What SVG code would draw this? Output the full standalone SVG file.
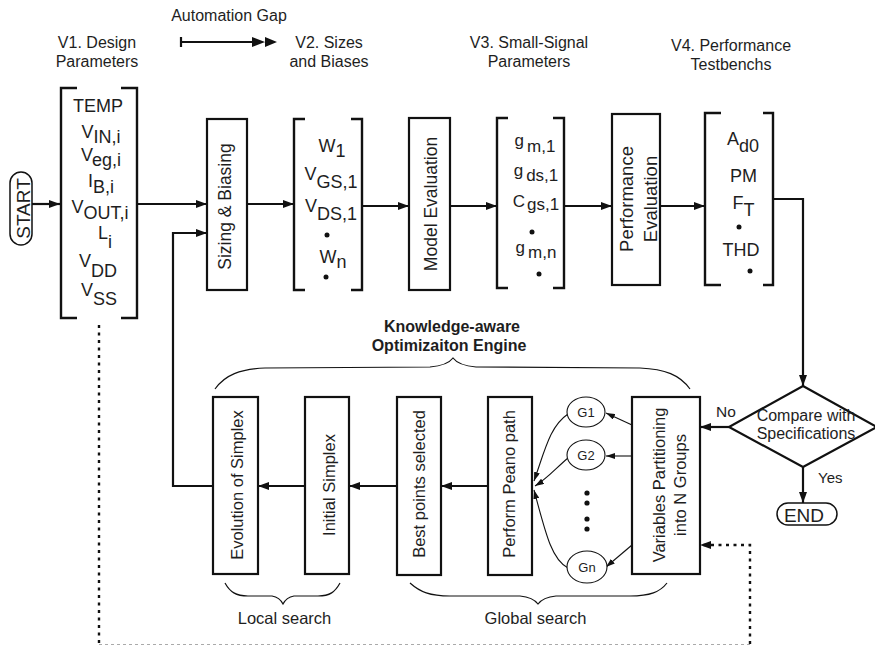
<svg xmlns="http://www.w3.org/2000/svg" width="875" height="646" viewBox="0 0 875 646">
  <defs>
    <marker id="arr" viewBox="0 0 11 8" refX="11" refY="4" markerWidth="11" markerHeight="8" markerUnits="userSpaceOnUse" orient="auto">
      <path d="M0,0 L11,4 L0,8 z" fill="#111"/>
    </marker>
    <marker id="arrs" viewBox="0 0 9 6" refX="9" refY="3" markerWidth="9" markerHeight="6" markerUnits="userSpaceOnUse" orient="auto">
      <path d="M0,0 L9,3 L0,6 z" fill="#111"/>
    </marker>
    <style>
      text { font-family: "Liberation Sans", Arial, sans-serif; fill: #1e1e1e; }
      .hd { font-size: 16px; text-anchor: middle; }
      .vec { font-size: 18px; text-anchor: middle; }
      .v3 { font-size: 17px; text-anchor: middle; }
      .box { fill: #fff; stroke: #111; stroke-width: 2.2; }
      .brk { fill: none; stroke: #111; stroke-width: 2.4; }
      .lbl { font-size: 17.5px; text-anchor: middle; }
      .lbl2 { font-size: 16.5px; text-anchor: middle; }
      .wire { fill: none; stroke: #111; stroke-width: 2.2; }
      .thin { fill: none; stroke: #111; stroke-width: 1.1; }
      .dot { fill: #111; }
      .dotted { fill: none; stroke: #111; stroke-width: 2.4; stroke-dasharray: 3 4.5; }
      .grey { fill: none; stroke: #aaa; stroke-width: 1; stroke-dasharray: 3 3; }
      .brace { fill: none; stroke: #111; stroke-width: 1.2; }
    </style>
  </defs>

  <!-- column headings -->
  <g id="headings">
    <text class="hd" x="229" y="21">Automation Gap</text>
    <path d="M181,37 V47 M181,42 H256" class="wire"/>
    <path d="M252,37 L265,42 L252,47 z M265,37 L277,42 L265,47 z" fill="#111"/>
    <text class="hd" x="97" y="48">V1. Design</text>
    <text class="hd" x="97" y="67">Parameters</text>
    <text class="hd" x="329" y="48">V2. Sizes</text>
    <text class="hd" x="329" y="67">and Biases</text>
    <text class="hd" x="529" y="48">V3. Small-Signal</text>
    <text class="hd" x="529" y="67">Parameters</text>
    <text class="hd" x="731" y="51">V4. Performance</text>
    <text class="hd" x="731" y="70">Testbenchs</text>
  </g>

  <!-- connectors -->
  <g id="connectors">
    <path class="wire" d="M32,204 H60" marker-end="url(#arr)"/>
    <path class="wire" d="M137,204 H207" marker-end="url(#arr)"/>
    <path class="wire" d="M213,486 H173 V233 H207" marker-end="url(#arr)"/>
    <path class="wire" d="M247,204 H294" marker-end="url(#arr)"/>
    <path class="wire" d="M362,206 H409" marker-end="url(#arr)"/>
    <path class="wire" d="M450,206 H497" marker-end="url(#arr)"/>
    <path class="wire" d="M564,206 H612" marker-end="url(#arr)"/>
    <path class="wire" d="M660,206 H705" marker-end="url(#arr)"/>
    <path class="wire" d="M773,199 H803 V386" marker-end="url(#arr)"/>
    <path class="wire" d="M729,427 H700" marker-end="url(#arr)"/>
    <path class="wire" d="M803,467 V503" marker-end="url(#arr)"/>
    <path class="wire" d="M488,486 H441" marker-end="url(#arr)"/>
    <path class="wire" d="M397,486 H349" marker-end="url(#arr)"/>
    <path class="wire" d="M305,486 H258" marker-end="url(#arr)"/>
    <path class="thin" d="M632,425 L606,413" marker-end="url(#arrs)"/>
    <path class="thin" d="M632,456 H606" marker-end="url(#arrs)"/>
    <path class="thin" d="M632,545 L606,567" marker-end="url(#arrs)"/>
    <path class="thin" d="M568,414 C550,426 545,450 534,481" marker-end="url(#arrs)"/>
    <path class="thin" d="M568,458 C556,468 548,478 535,486" marker-end="url(#arrs)"/>
    <path class="thin" d="M568,568 C552,560 546,535 534,490" marker-end="url(#arrs)"/>
    <path class="dotted" d="M99,325 V644"/>
    <path class="grey" d="M99,644.5 H750"/>
    <path class="dotted" d="M750,644 V545 H703"/>
    <path d="M700,545 L711,541 L711,549 z" fill="#111"/>
  </g>

  <g id="start">
    <rect x="10" y="172" width="22" height="73" rx="11" fill="#fff" stroke="#111" stroke-width="1.5"/>
    <text transform="translate(29.5,208.5) rotate(-90)" font-size="19" text-anchor="middle">START</text>
  </g>

  <!-- V1 design parameters -->
  <g id="v1">
    <path class="brk" d="M77,88 H61 V318 H77 M121,88 H137 V318 H121"/>
    <text class="vec" x="98" y="112">TEMP</text>
    <text class="vec" x="101" y="138">V<tspan dy="5">IN,i</tspan></text>
    <text class="vec" x="101" y="161">V<tspan dy="5">eg,i</tspan></text>
    <text class="vec" x="101" y="187">I<tspan dy="6">B,i</tspan></text>
    <text class="vec" x="100" y="213">V<tspan dy="6">OUT,i</tspan></text>
    <text class="vec" x="105" y="239">L<tspan dy="9">i</tspan></text>
    <text class="vec" x="98" y="267">V<tspan dy="10">DD</tspan></text>
    <text class="vec" x="99" y="296">V<tspan dy="9">SS</tspan></text>
  </g>

  <g id="sizing">
    <rect class="box" x="207" y="119" width="40" height="171"/>
    <text class="lbl" transform="translate(231,206.5) rotate(-90)">Sizing &amp; Biasing</text>
  </g>

  <!-- V2 sizes and biases -->
  <g id="v2">
    <path class="brk" d="M305,119 H294 V290 H305 M351,119 H362 V290 H351"/>
    <text class="vec" x="332" y="152">W<tspan dy="5">1</tspan></text>
    <text class="vec" x="331" y="180">V<tspan dy="8">GS,1</tspan></text>
    <text class="vec" x="331" y="212">V<tspan dy="8">DS,1</tspan></text>
    <circle class="dot" cx="327" cy="235" r="2.5"/>
    <text class="vec" x="333" y="263">W<tspan dy="5">n</tspan></text>
    <circle class="dot" cx="326" cy="277" r="2.5"/>
  </g>

  <g id="model">
    <rect class="box" x="409" y="118" width="41" height="172"/>
    <text class="lbl" transform="translate(436.5,204) rotate(-90)">Model Evaluation</text>
  </g>

  <!-- V3 small-signal parameters -->
  <g id="v3">
    <path class="brk" d="M508,118 H497 V288 H508 M553,118 H564 V288 H553"/>
    <text class="v3" x="535" y="146">g<tspan dx="3" dy="6">m,1</tspan></text>
    <text class="v3" x="536" y="176">g<tspan dx="3" dy="5">ds,1</tspan></text>
    <text class="v3" x="536" y="207">C<tspan dx="2" dy="3">gs,1</tspan></text>
    <circle class="dot" cx="532" cy="232" r="2.5"/>
    <text class="v3" x="536" y="253">g<tspan dx="3" dy="5">m,n</tspan></text>
    <circle class="dot" cx="539" cy="274" r="2.5"/>
  </g>

  <g id="performance">
    <rect class="box" x="612" y="114" width="48" height="171"/>
    <text font-size="18.5" text-anchor="middle" transform="translate(632.5,199) rotate(-90)">Performance</text>
    <text font-size="18.5" text-anchor="middle" transform="translate(656.5,199) rotate(-90)">Evaluation</text>
  </g>

  <!-- V4 performance testbenches -->
  <g id="v4">
    <path class="brk" d="M721,113 H705 V285 H721 M763,113 H773 V285 H763"/>
    <text class="vec" x="743" y="145">A<tspan dy="7">d0</tspan></text>
    <text class="vec" x="743.5" y="182">PM</text>
    <text class="vec" x="743.5" y="209">F<tspan dy="7">T</tspan></text>
    <circle class="dot" cx="739" cy="227" r="2.5"/>
    <text class="vec" x="741" y="256">THD</text>
    <circle class="dot" cx="750" cy="271" r="2.5"/>
  </g>

  <g id="compare">
    <path d="M803,386 L877,427 L803,467 L729,427 z" fill="none" stroke="#111" stroke-width="2.2"/>
    <text class="hd" x="806" y="421">Compare with</text>
    <text class="hd" x="806" y="439">Specifications</text>
    <text font-size="15.5" x="716" y="417">No</text>
    <text font-size="15" x="818" y="483">Yes</text>
  </g>

  <g id="end">
    <rect x="777" y="503" width="60" height="22" rx="11" fill="#fff" stroke="#111" stroke-width="1.5"/>
    <text x="804" y="522" font-size="19" text-anchor="middle">END</text>
  </g>

  <!-- optimization engine -->
  <g id="engine">
    <text x="452" y="332" font-size="16" font-weight="bold" text-anchor="middle">Knowledge-aware</text>
    <text x="449" y="351" font-size="16" font-weight="bold" text-anchor="middle">Optimizaiton Engine</text>
    <path class="brace" d="M215,389 C225,375 240,369 265,368 L430,367 C442,366 450,362 453,358 C456,362 464,366 476,367 L640,368 C665,369 680,375 690,389"/>
  </g>

  <g id="evolution">
    <rect class="box" x="213" y="397" width="45" height="177"/>
    <text class="lbl2" transform="translate(242.5,485) rotate(-90)">Evolution of Simplex</text>
  </g>

  <g id="initial">
    <rect class="box" x="305" y="397" width="44" height="177"/>
    <text class="lbl2" transform="translate(334.5,485) rotate(-90)">Initial Simplex</text>
  </g>

  <g id="best">
    <rect class="box" x="397" y="397" width="44" height="178"/>
    <text class="lbl2" transform="translate(425,484) rotate(-90)">Best points selected</text>
  </g>

  <g id="peano">
    <rect class="box" x="488" y="397" width="44" height="178"/>
    <text class="lbl2" transform="translate(515,484) rotate(-90)">Perform Peano path</text>
  </g>

  <g id="partition">
    <rect class="box" x="632" y="397" width="68" height="177"/>
    <text class="lbl2" transform="translate(664.5,485) rotate(-90)">Variables Partitioning</text>
    <text class="lbl2" transform="translate(686,485) rotate(-90)">into N Groups</text>
  </g>

  <g id="g1">
    <ellipse cx="586" cy="412" rx="19" ry="15" fill="#fff" stroke="#111" stroke-width="1.1"/>
    <text x="586" y="417" font-size="13" text-anchor="middle">G1</text>
  </g>
  <g id="g2">
    <ellipse cx="586" cy="455" rx="19" ry="15" fill="#fff" stroke="#111" stroke-width="1.1"/>
    <text x="586" y="460" font-size="13" text-anchor="middle">G2</text>
  </g>
  <g id="gdots">
    <circle class="dot" cx="587" cy="493" r="2.6"/>
    <circle class="dot" cx="587" cy="503" r="2.6"/>
    <circle class="dot" cx="587" cy="519" r="2.6"/>
    <circle class="dot" cx="587" cy="529" r="2.6"/>
  </g>
  <g id="gn">
    <ellipse cx="587" cy="567" rx="20" ry="16" fill="#fff" stroke="#111" stroke-width="1.1"/>
    <text x="587" y="572" font-size="13" text-anchor="middle">Gn</text>
  </g>

  <g id="local">
    <path class="brace" d="M225,583 C230,592 236,596 248,596 L272,596 C278,597 281,600 283,604 C285,600 288,597 294,596 L318,596 C330,596 335,592 340,583"/>
    <text x="284.5" y="624" font-size="16.5" text-anchor="middle">Local search</text>
  </g>

  <g id="global">
    <path class="brace" d="M410,583 C420,592 430,596 450,596 L520,596 C530,597 535,600 538,604 C541,600 546,597 556,596 L630,596 C650,596 660,592 667,583"/>
    <text x="535.5" y="624" font-size="16.5" text-anchor="middle">Global search</text>
  </g>
</svg>
